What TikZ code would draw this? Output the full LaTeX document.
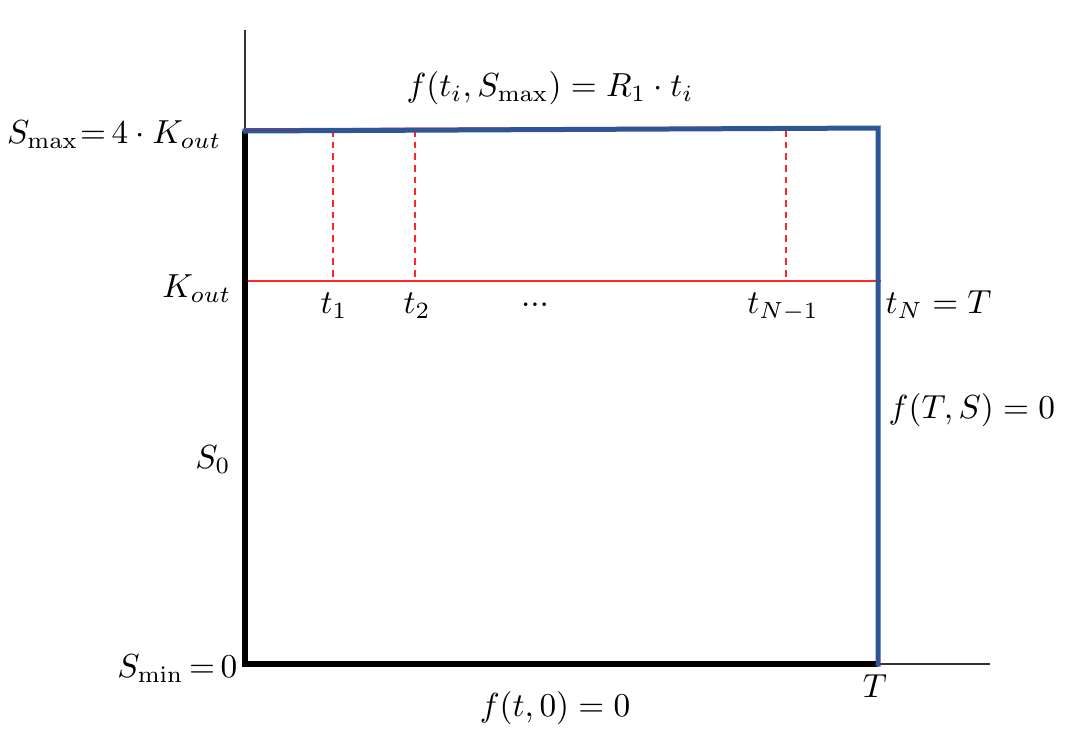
\documentclass[tikz,border=0pt]{standalone}
\usetikzlibrary{calc}
\definecolor{condblue}{RGB}{47,85,151}

\begin{document}
\begin{tikzpicture}[
  x=0.3pt, y=-0.3pt,
  axis/.style={line width=0.45pt, draw=black!80},
  bound/.style={line width=1.8pt, draw=black},
  cond/.style={line width=1.5pt, draw=condblue, line cap=rect},
  grid/.style={line width=0.5pt, draw=red!85},
  tick/.style={line width=0.45pt, draw=red!85, dash pattern=on 2pt off 1.5pt},
  lbl/.style={inner sep=0pt},
]
\useasboundingbox (0,0) rectangle (1080,735);

% ---- corners of the domain ----
\coordinate (O)   at (245,664);
\coordinate (TL)  at (245,131);
\coordinate (TR)  at (878,128);
\coordinate (BR)  at (878,664);
\coordinate (KL)  at (245,281);
\coordinate (KR)  at (881,281);
\coordinate (yend) at (245,30);
\coordinate (xend) at (990,664);

% ---- axes ----
\draw[axis] (O) -- (yend);
\draw[axis] (O) -- (xend);

% ---- K_out level and grid in time ----
\draw[grid] ($(TL)+(0,-2)$) -- ($(TR)+(2,-1)$);
\draw[grid] (KL) -- (KR);
\foreach \name/\x in {t1/333, t2/415, tN1/786}{
  \coordinate (\name top) at (\x,130);
  \coordinate (\name) at (\x,281);
  \draw[tick] (\name top) -- (\name);
}

% ---- boundaries ----
\draw[bound] (TL) -- (O) -- (BR);
\draw[cond] (TL) -- (TR) -- (BR);

% ---- labels on S ----
\node[lbl, anchor=base east] (smax) at (222,143) {$S_{\max}\mskip-4mu=\mskip-2mu4\cdot K_{out}$};
\node[lbl, anchor=base east] (kout) at (232,297) {$K_{out}$};
\node[lbl, anchor=base] (s0) at (213,468) {$S_0$};
\node[lbl, anchor=base east] (smin) at (238,677) {$S_{\min}\mskip-2mu=\mskip-2mu0$};

% ---- labels on t ----
\node[lbl, anchor=base] (lt1) at (334,313) {$t_1$};
\node[lbl, anchor=base] (lt2) at (417,313) {$t_2$};
\node[lbl, anchor=base] (ldots) at (535,306) {...};
\node[lbl, anchor=base] (ltN1) at (783,313) {$t_{N-1}$};
\node[lbl, anchor=base west] (ltN) at (885,313) {$t_N=T$};
\node[lbl, anchor=base] (lT) at (875,697) {$T$};

% ---- boundary conditions ----
\node[lbl, anchor=base] (top) at (550,96) {$f(t_i,S_{\max})=R_1\cdot t_i$};
\node[lbl, anchor=base west] (right) at (888,418) {$f(T,S)=0$};
\node[lbl, anchor=base] (bottom) at (555,716) {$f(t,0)=0$};
\end{tikzpicture}
\end{document}
